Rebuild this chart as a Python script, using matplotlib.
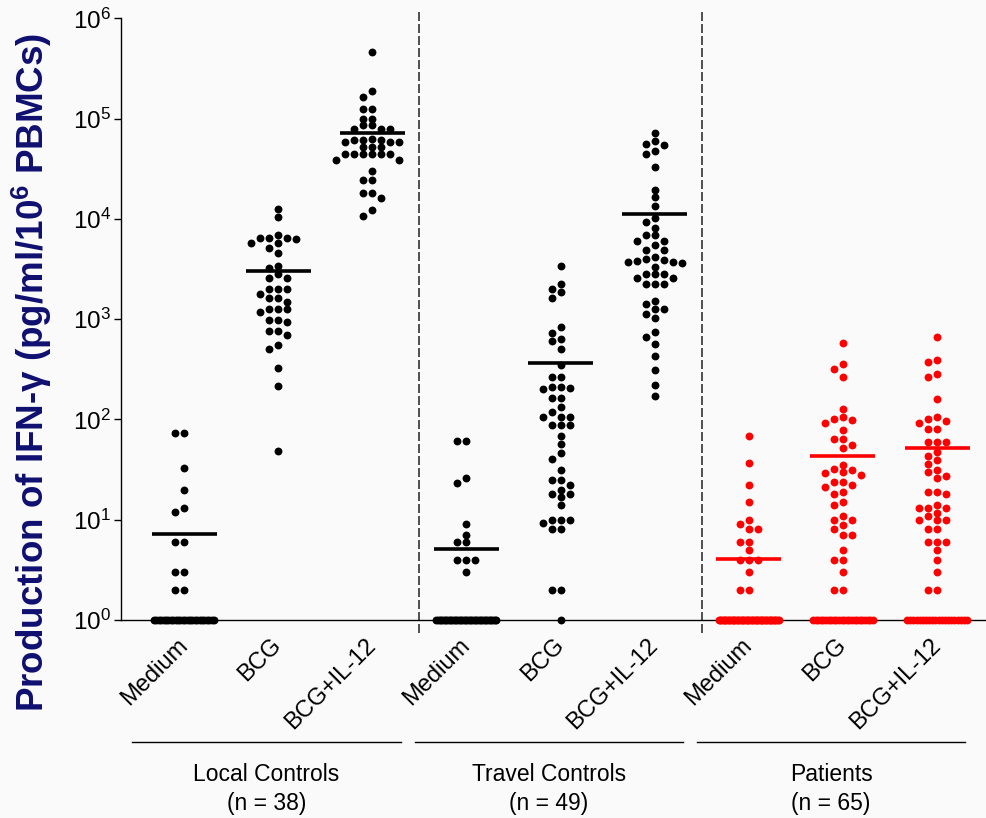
import numpy as np
import matplotlib
matplotlib.use("Agg")
import matplotlib.pyplot as plt

plt.rcParams['font.family'] = ['Liberation Sans', 'DejaVu Sans']
plt.rcParams['mathtext.fontset'] = 'custom'
plt.rcParams['mathtext.rm'] = 'Liberation Sans'
plt.rcParams['mathtext.bf'] = 'Liberation Sans:bold'
plt.rcParams['mathtext.it'] = 'Liberation Sans:italic'

# --- data (values <= 1 sit on the 10^0 floor) ---
conditions = ["Medium", "BCG", "BCG+IL-12"]
groups = ["Local Controls\n(n = 38)", "Travel Controls\n(n = 49)", "Patients\n(n = 65)"]
group_colors = ["black", "black", "red"]

local_medium = [73, 73, 33, 20, 13, 12, 6, 6, 3, 3, 2, 2,
                1, 1, 1, 1, 1, 1, 1, 1, 1, 1, 1, 1, 1,
                1, 1, 1, 1, 1, 1, 1, 1, 1, 1, 1, 1, 1]
local_bcg = [12600, 10400, 6500, 6500, 6300, 6500, 6900, 5700, 5700, 5100,
             4550, 3250, 3400, 2800, 2600, 2600, 2000, 2000, 2000, 1800,
             1620, 1620, 1470, 1260, 1260, 1260, 1180, 975, 975, 930,
             760, 760, 700, 550, 500, 324, 215, 49]
local_il12 = [463000, 190000, 166000, 126000, 126000, 100000, 100000, 86000,
              86000, 79000, 79000, 79000, 61000, 59000, 61000, 59000, 61000,
              59000, 63000, 52000, 52000, 52000, 44000, 44000, 44000, 44000,
              44000, 44000, 39000, 39000, 30000, 24500, 24500, 18000, 18000,
              16000, 12300, 10700]

travel_medium = [61, 61, 26, 23, 9, 7, 6, 6, 4, 4, 4, 3,
                 1, 1, 1, 1, 1, 1, 1, 1, 1, 1, 1, 1, 1,
                 1, 1, 1, 1, 1, 1, 1, 1, 1, 1, 1, 1, 1,
                 1, 1, 1, 1, 1, 1, 1, 1, 1, 1, 1]
travel_bcg = [3400, 2240, 1990, 1870, 1620, 830, 720, 630, 600, 500,
              350, 267, 267, 210, 200, 205, 210, 163, 163, 134,
              119, 105, 105, 105, 89, 89, 89, 68, 57, 46,
              40.5, 31, 25, 25, 22, 20, 18, 18, 17, 14,
              10, 9.2, 10, 10, 8, 8, 2, 2, 1]
travel_il12 = [71000, 60000, 55600, 54400, 47400, 44000, 33000, 19600, 16600,
               13500, 10100, 9350, 8200, 6950, 6950, 6000, 6000, 5450, 4900,
               4900, 4150, 3900, 3700, 3600, 3700, 3800, 4000, 3330, 2800,
               2850, 2850, 2600, 2550, 2240, 2240, 2240, 1520, 1400, 1260,
               1250, 1120, 1030, 740, 660, 565, 430, 310, 220, 170]

patients_medium = [69, 37, 22, 15, 10, 9, 8, 8, 6, 6, 5, 4, 4, 4, 3, 2, 2,
                   1, 1, 1, 1, 1, 1, 1, 1, 1, 1, 1, 1, 1, 1, 1, 1,
                   1, 1, 1, 1, 1, 1, 1, 1, 1, 1, 1, 1, 1, 1, 1, 1,
                   1, 1, 1, 1, 1, 1, 1, 1, 1, 1, 1, 1, 1, 1, 1, 1]
patients_bcg = [585, 356, 320, 262, 126, 105, 100, 98, 92, 78, 64, 64, 56,
                52, 35, 29, 31, 30, 28, 32, 24, 24, 22, 21, 19, 18, 15, 14,
                11, 10, 10, 8.9, 8, 7, 7, 5, 4, 4, 3, 2, 2,
                1, 1, 1, 1, 1, 1, 1, 1, 1, 1, 1, 1,
                1, 1, 1, 1, 1, 1, 1, 1, 1, 1, 1, 1]
patients_il12 = [660, 390, 370, 284, 262, 160, 106, 101, 97, 93, 81, 80, 59,
                 59, 59, 47, 43, 39, 36, 31, 30, 27, 26, 19, 19, 18, 14, 13,
                 13, 13, 11.8, 11, 10, 10, 10, 8, 8, 6, 6, 6, 5, 4, 3, 2, 2,
                 1, 1, 1, 1, 1, 1, 1, 1, 1, 1,
                 1, 1, 1, 1, 1, 1, 1, 1, 1, 1]

columns = [local_medium, local_bcg, local_il12,
           travel_medium, travel_bcg, travel_il12,
           patients_medium, patients_bcg, patients_il12]

fig = plt.figure(figsize=(9.86, 8.18), dpi=100)
fig.patch.set_facecolor('#fafafa')
ax = fig.add_axes([121 / 986, 198 / 818, 865 / 986, 601.7 / 818])
ax.set_facecolor('#fafafa')
ax.set_yscale('log')
ax.set_ylim(1, 1e6)
ax.set_xlim(-0.67, 8.52)


def swarm_x(xc, vals, d=6.5, step=9.0, maxk=3):
    # simple beeswarm in pixel space
    vals = np.asarray(vals, dtype=float)
    disp = ax.transData.transform(np.column_stack([np.full(len(vals), xc), vals]))
    ys = disp[:, 1]
    xpx = np.zeros(len(vals))
    floor = vals <= 1
    nfloor = floor.sum()
    if nfloor > 2 * maxk + 1:
        xpx[floor] = np.linspace(-30, 30, nfloor)
        rest = np.where(~floor)[0]
    else:
        rest = np.arange(len(vals))
    order = rest[np.argsort(-ys[rest])]
    slots = [0]
    for k in range(1, 6):
        slots += [-k, k]
    placed = []
    for i in order:
        chosen = 0
        for k in slots:
            ok = True
            for (pk, py) in placed:
                if pk == k and abs(py - ys[i]) < d:
                    ok = False
                    break
            if ok:
                chosen = k
                break
        placed.append((chosen, ys[i]))
        xpx[i] = chosen * step
    px_per_unit = ax.transData.transform((1, 1))[0] - ax.transData.transform((0, 1))[0]
    return xc + xpx / px_per_unit


for i, vals in enumerate(columns):
    col = group_colors[i // 3]
    xs = swarm_x(i, vals)
    ax.scatter(xs, vals, s=32, color=col, linewidths=0, clip_on=False, zorder=3)
    m = np.mean(vals)
    ax.plot([i - 0.345, i + 0.345], [m, m], color=col, lw=2.6,
            solid_capstyle='butt', zorder=4)

# dashed separators
for xd in [2.5, 5.5]:
    ax.plot([xd, xd], [10 ** -0.13, 10 ** 6.06], color='#333333', lw=1.2,
            ls=(0, (5.4, 1.8)), clip_on=False, zorder=1)

for s in ['top', 'right']:
    ax.spines[s].set_visible(False)
for s in ['left', 'bottom']:
    ax.spines[s].set_linewidth(1.0)

ax.set_yticks([10 ** k for k in range(7)])
ax.set_yticklabels([r'$10^{%d}$' % k for k in range(7)], fontsize=17.5)
ax.minorticks_off()
ax.tick_params(axis='y', direction='out', length=5, width=1.0, pad=2)

ax.set_xticks(range(9))
ax.set_xticklabels(conditions * 3, fontsize=17, rotation=45, ha='right',
                   va='center', rotation_mode='anchor')
ax.tick_params(axis='x', length=0, pad=16)

# group brackets
tr = ax.get_xaxis_transform()
for g, name in enumerate(groups):
    x0 = g * 3 - 0.55
    x1 = g * 3 + 2.30
    ax.plot([x0, x1], [-0.2028, -0.2028], color='black', lw=1.0,
            transform=tr, clip_on=False)
    ax.text((x0 + x1) / 2, -0.238, name, transform=tr, ha='center', va='top',
            fontsize=16.5, linespacing=1.3)

fig.text(32 / 986, 1 - 372 / 818,
         r'Production of IFN-γ (pg/ml/10$^{\mathbf{6}}$ PBMCs)',
         rotation=90, ha='center', va='center', fontsize=26.5,
         fontweight='bold', color='#0f0f70')

fig.savefig('out.png', dpi=100, facecolor=fig.get_facecolor())
